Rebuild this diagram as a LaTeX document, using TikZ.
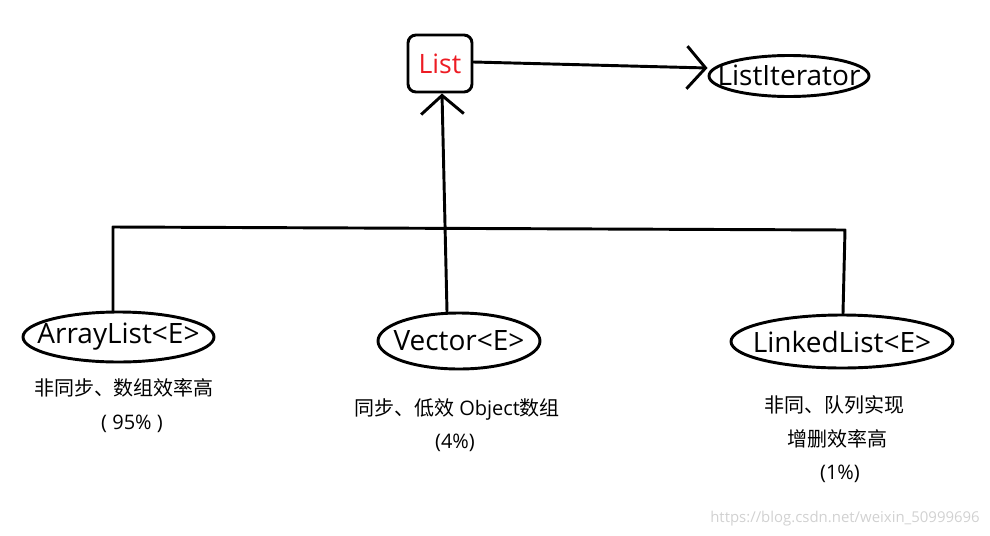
\documentclass[tikz,border=0pt]{standalone}
\usepackage{fontspec}
\setmainfont{Open Sans}
\newfontfamily\cjk{Noto Sans CJK SC}
\usetikzlibrary{shapes.geometric,arrows.meta}
\definecolor{listred}{RGB}{237,28,36}
\tikzset{
  ln/.style={line width=2.2pt, line cap=round, line join=round},
  ov/.style={ln, draw, ellipse, inner sep=0pt},
  lbl/.style={inner sep=0pt, font=\fontsize{21}{24}\selectfont},
  cn/.style={font=\fontsize{15}{18}\selectfont, inner sep=0pt},
  barb/.style={-{Straight Barb[length=14pt,width=32pt,line width=2.2pt]}}
}
\begin{document}
\begin{tikzpicture}[x=0.75pt,y=-0.75pt]
\useasboundingbox (0,0) rectangle (990,536);
\node[ln, draw, rounded corners=6pt, minimum width=64*0.75pt, minimum height=57*0.75pt, inner sep=0pt,
  text=listred, font=\fontsize{20}{24}\selectfont] (list) at (440,63.5) {List};
\node[ov, minimum width=160*0.75pt, minimum height=41*0.75pt] (iter) at (789,76) {};
\node[lbl] (iterT) at (789,75) {ListIterator};
\node[ov, minimum width=191*0.75pt, minimum height=50*0.75pt] (arr) at (118.5,337) {};
\node[lbl] (arrT) at (arr) {ArrayList<E>};
\node[ov, minimum width=162*0.75pt, minimum height=56*0.75pt] (vec) at (459,341) {};
\node[lbl] (vecT) at (vec) {Vector<E>};
\node[ov, minimum width=222*0.75pt, minimum height=53*0.75pt] (lnk) at (842,341.5) {};
\node[lbl] (lnkT) at (lnk) {LinkedList<E>};
\coordinate (tl) at (113,227);
\coordinate (tr) at (845,230);
\draw[ln, barb] (list.east |- 0,62) -- (iter.west |- 0,68);
\draw[ln, barb] (vec.north -| 447,0) -- (list.south -| 442,0);
\draw[ln] (arr.north -| 113,0) -- (tl) -- (tr) -- (lnk.north -| 843,0);
\node[cn] (t1) at (124,388) {\cjk 非同步、数组效率高};
\node[cn] (t2) at (132,424) {( 95\% )};
\node[cn] (t3) at (457,409) {{\cjk 同步、低效} Object{\cjk 数组}};
\node[cn] (t4) at (455,443) {(4\%)};
\node[cn] (t5) at (834,405) {\cjk 非同、队列实现};
\node[cn] (t6) at (837,439) {\cjk 增删效率高};
\node[cn] (t7) at (840,474) {(1\%)};
\node[font=\fontsize{11.2}{13}\selectfont, text=black!18, inner sep=0pt] (wm) at (845,519) {https://blog.csdn.net/weixin\_50999696};
\end{tikzpicture}
\end{document}
